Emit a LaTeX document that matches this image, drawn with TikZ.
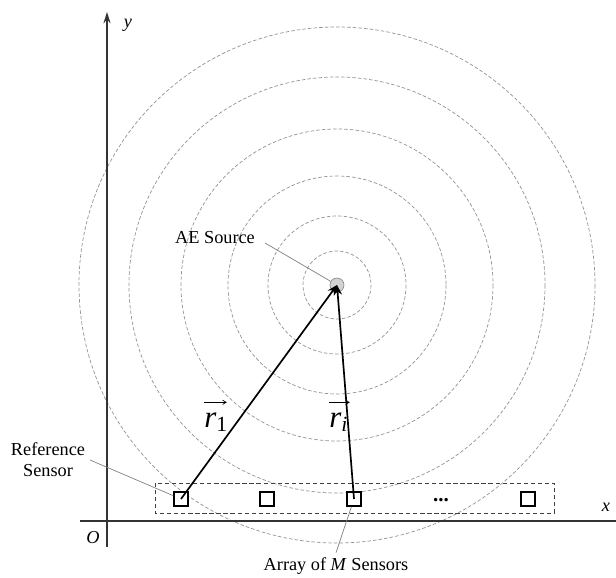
\documentclass[tikz,border=0pt]{standalone}
\usepackage{fontspec}
\setmainfont{Liberation Serif}
\usetikzlibrary{arrows.meta}
\begin{document}
\begin{tikzpicture}[x=0.025cm,y=-0.025cm]
\tikzstyle{every node}=[font=\fontsize{13}{15}\selectfont]
\tikzstyle{wave}=[gray!85,line width=0.5pt,dash pattern=on 2.5pt off 1.5pt]
\tikzstyle{axis}=[line width=1.4pt,black!80]
\tikzstyle{sensor}=[draw,fill=white,line width=1.5pt,minimum size=9.5pt,inner sep=0pt]
\tikzstyle{vec}=[line width=1.2pt,-{Stealth[length=7pt,width=6pt]}]
\tikzstyle{leader}=[gray,line width=0.5pt]
\tikzstyle{vlabel}=[font=\fontsize{22}{22}\selectfont,inner sep=0pt,anchor=base west]
\tikzstyle{varrow}=[line width=0.5pt,-{Straight Barb[length=2.5pt,width=3pt]}]
\useasboundingbox (0,0) rectangle (616,577);
\node [circle,fill=gray!35,draw=gray,minimum size=10pt,inner sep=0pt] (src) at (337,285) {};
\foreach \r in {34,69,109,156,208,258}
  \draw [wave] (src.center) circle [radius=\r];
\draw [densely dashed,line width=0.5pt,black!75] (155,483) rectangle (554,513);
\coordinate (xstart) at (80,521);
\coordinate (xend) at (616,521);
\coordinate (ystart) at (107,547);
\coordinate (yend) at (107,12);
\draw [axis] (xstart) -- (xend);
\draw [axis,-{Stealth[length=8pt,width=5pt]}] (ystart) -- (yend);
\node (xlbl) at (606,507) {\textit{x}};
\node (ylbl) at (128,25) {\textit{y}};
\node (olbl) at (93,538) {\textit{O}};
\node [sensor] (s1) at (181,499) {};
\node [sensor] (s2) at (267,499) {};
\node [sensor] (s3) at (354,499) {};
\node [anchor=base,font=\fontsize{15}{15}\selectfont\bfseries] (dots) at (441,501) {...};
\node [sensor] (sM) at (528,499) {};
\draw [vec] (s1.center) -- (src.center);
\draw [vec] (s3.center) -- (src.center);
\node [vlabel] (r1lbl) at (204,427) {\textit{r}\textsubscript{1}};
\draw [varrow] ([yshift=7pt]r1lbl.north west) -- ([yshift=7pt,xshift=-1pt]r1lbl.north east);
\node [vlabel] (rilbl) at (329,427) {\textit{r}\textsubscript{\textit{i}}};
\draw [varrow] ([yshift=7pt]rilbl.north west) -- ([yshift=7pt,xshift=1pt]rilbl.north east);
\node (srclbl) at (215,238) {AE Source};
\coordinate (srctail) at (265,243);
\draw [leader] (srctail) -- (src);
\node [align=center] (reflbl) at (48,460) {Reference\\Sensor};
\draw [leader] (reflbl.east) -- (s1);
\node (arrlbl) at (336,566) {Array of \textit{M} Sensors};
\draw [leader] (arrlbl.north) -- (s3);
\end{tikzpicture}
\end{document}
